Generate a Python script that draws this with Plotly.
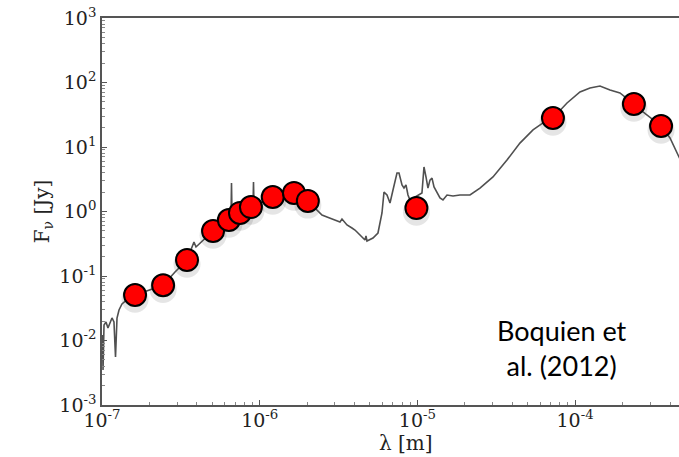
import plotly.graph_objects as go

# SED model curve: wavelength [micrometre] and flux density [Jy]
sed_lambda_um = [0.1007, 0.1015, 0.1030, 0.1060, 0.1091, 0.1124, 0.1157, 0.1191, 0.1218, 0.1245,
                 0.1282, 0.1339, 0.142, 0.1505, 0.162, 0.2016, 0.244, 0.2904, 0.346, 0.383,
                 0.3945, 0.506, 0.638, 0.6577, 0.6625, 0.6674, 0.750, 0.88, 0.907, 0.9135,
                 0.920, 1.034, 1.21, 1.447, 1.65, 2.02, 2.242, 2.483, 2.672, 2.916,
                 3.230, 3.326, 3.577, 3.848, 4.020, 4.200, 4.454, 4.653, 4.721, 4.791,
                 5.229, 5.624, 5.964, 6.141, 6.416, 6.704, 7.004, 7.424, 7.645, 7.988,
                 8.222, 8.466, 8.717, 8.975, 10.69, 11.01, 11.34, 11.67, 12.02, 12.38,
                 12.75, 13.32, 13.91, 14.53, 15.41, 16.82, 18.63, 21.56, 24.94, 30.16,
                 37.0, 44.7, 54.1, 62.6, 72.4, 88.9, 107.4, 124.3, 143.9, 166.5,
                 192.6, 236.0, 269.6, 351.0, 399.9, 456.0, 535.5]
sed_flux_jy = [0.01217, 0.00349, 0.01738, 0.01936, 0.01563, 0.0194, 0.02234, 0.0194, 0.00555, 0.0223,
               0.0297, 0.0368, 0.0425, 0.0472, 0.0507, 0.0607, 0.072, 0.1153, 0.177, 0.3365,
               0.2818, 0.499, 0.738, 0.822, 2.77, 0.883, 0.95, 1.17, 1.216, 2.86,
               1.26, 1.40, 1.68, 1.80, 1.94, 1.46, 1.13, 0.883, 0.822, 0.765,
               0.687, 0.765, 0.618, 0.555, 0.516, 0.464, 0.403, 0.362, 0.417, 0.349,
               0.388, 0.464, 0.948, 2.00, 1.80, 1.355, 2.155, 3.95, 3.95, 2.58,
               2.31, 2.58, 1.80, 1.507, 1.94, 4.90, 3.43, 2.31, 3.07, 3.30,
               2.40, 1.94, 1.62, 1.507, 1.80, 1.74, 1.80, 1.80, 2.31, 3.43,
               6.28, 11.5, 18.4, 23.6, 28.2, 48.1, 71.3, 82.2, 88.3, 76.6,
               68.8, 46.4, 34.9, 21.2, 13.8, 7.0, 3.07]

# Photometric data points
obs_lambda_um = [0.162, 0.244, 0.346, 0.506, 0.638, 0.750, 0.88, 1.21, 1.65, 2.02,
                 9.86, 72.4, 236.0, 351.0]
obs_flux_jy = [0.0507, 0.072, 0.177, 0.499, 0.738, 0.95, 1.17, 1.68, 1.94, 1.46,
               1.13, 28.2, 46.4, 21.2]

x_tick_exps = [-7, -6, -5, -4]
y_tick_exps = [-3, -2, -1, 0, 1, 2, 3]

sed_lambda_m = [v * 1e-6 for v in sed_lambda_um]
obs_lambda_m = [v * 1e-6 for v in obs_lambda_um]

fig = go.Figure()

# soft shadow under the markers (on a hidden, slightly shifted axis)
fig.add_trace(go.Scatter(
    x=obs_lambda_m, y=obs_flux_jy, mode="markers", yaxis="y", hoverinfo="skip",
    marker=dict(size=27, color="rgba(0,0,0,0.10)", line=dict(width=0)),
    showlegend=False))

fig.add_trace(go.Scatter(
    x=sed_lambda_m, y=sed_flux_jy, mode="lines", yaxis="y2",
    line=dict(color="rgb(80,80,80)", width=1.6), showlegend=False))

fig.add_trace(go.Scatter(
    x=obs_lambda_m, y=obs_flux_jy, mode="markers", yaxis="y2",
    marker=dict(size=22, color="#ff0000", line=dict(color="black", width=2)),
    showlegend=False))

serif = "DejaVu Serif"
axis_col = "#555555"

fig.update_layout(
    width=679, height=457,
    margin=dict(l=102, r=0, t=18, b=52),
    paper_bgcolor="white", plot_bgcolor="white",
    font=dict(family=serif, size=14, color="#222222"),
    xaxis=dict(
        type="log", range=[-7, -3.341],
        tickvals=[10 ** e for e in x_tick_exps],
        ticktext=["10<sup>%d</sup>" % e for e in x_tick_exps],
        ticks="inside", ticklen=5, tickcolor=axis_col, tickwidth=1,
        minor=dict(ticks="inside", ticklen=3, tickcolor="#888888", dtick="D1", showgrid=False),
        showline=True, linecolor=axis_col, linewidth=1.5, mirror=True,
        showgrid=False, zeroline=False, ticklabelstandoff=-3,
        tickfont=dict(family=serif, size=19),
    ),
    yaxis=dict(
        type="log", range=[-3 + 0.065, 3 + 0.065],
        visible=False, showgrid=False, zeroline=False,
    ),
    yaxis2=dict(
        type="log", range=[-3, 3], overlaying="y", side="left",
        tickvals=[10 ** e for e in y_tick_exps],
        ticktext=["10<sup>%d</sup>" % e for e in y_tick_exps],
        ticks="inside", ticklen=5, tickcolor=axis_col, tickwidth=1,
        minor=dict(ticks="inside", ticklen=3, tickcolor="#888888", dtick="D1", showgrid=False),
        showline=True, linecolor=axis_col, linewidth=1.5,
        showgrid=False, zeroline=False,
        title=dict(text="F<sub>ν</sub> [Jy]", font=dict(family=serif, size=20), standoff=4),
        tickfont=dict(family=serif, size=19),
    ),
    annotations=[
        dict(text="λ [m]", xref="paper", yref="paper", x=0.527, y=-0.099,
             xanchor="center", yanchor="middle", showarrow=False,
             font=dict(family=serif, size=20, color="#222222")),
        dict(text="Boquien et<br>al. (2012)", xref="paper", yref="paper",
             x=0.797, y=0.147, xanchor="center", yanchor="middle",
             showarrow=False, align="center",
             font=dict(family="Lato", size=27, color="black")),
    ],
)

fig.write_html("out.html")
